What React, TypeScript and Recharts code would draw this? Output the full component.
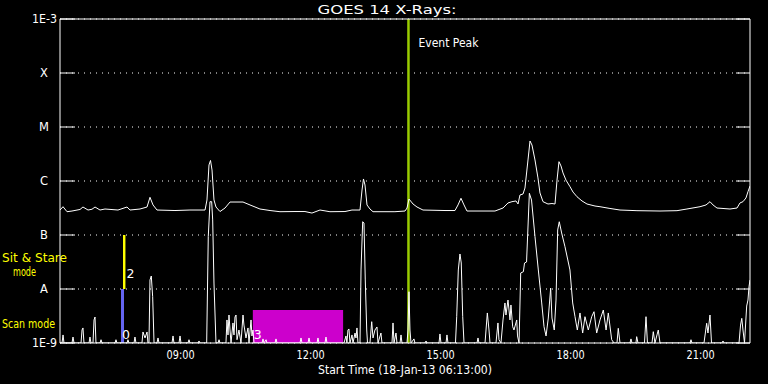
import {
  LineChart,
  Line,
  XAxis,
  YAxis,
  CartesianGrid,
  ReferenceArea,
  ReferenceLine,
} from 'recharts'

// x values are minutes after the start time 06:13 UT (18-Jan-13)
const START_MIN = 6 * 60 + 13
const END_MIN = 955.4

const Y_TICKS = [1e-9, 1e-8, 1e-7, 1e-6, 1e-5, 1e-4, 1e-3]
const Y_LABELS = ['1E-9', 'A', 'B', 'C', 'M', 'X', '1E-3']
const HOUR_TICKS = [47, 107, 167, 227, 287, 347, 407, 467, 527, 587, 647, 707, 767, 827, 887, 947]
const LABEL_TICKS = [167, 347, 527, 707, 887]

// long channel (1-8 A), W/m^2
const LONG_T = [
  0, 4.2, 9.7, 16.6, 27.7, 31.8, 38.8, 44.3, 48.5, 55.4, 62.3, 80.3, 92.8, 96.9, 110.8, 120.5,
  124.6, 128.8, 134.3, 159.2, 180, 200.8, 203.5, 206.3, 208.4, 210.5, 213.2, 216, 221.5, 228.5,
  235.4, 253.4, 263.1, 276.9, 290.8, 304.6, 325.4, 339.2, 348.9, 360, 373.8, 394.6, 404.3, 415.4,
  418.2, 420.2, 422.3, 425.1, 429.2, 433.4, 463.8, 477.7, 480.5, 483.2, 488.8, 494.3, 502.6, 533.1,
  546.9, 551.1, 555.2, 559.4, 563.5, 602.3, 613.4, 620.3, 625.8, 631.4, 634.2, 636.9, 641.1, 643.8,
  648, 650.8, 653.5, 657.7, 661.8, 664.6, 668.8, 675.7, 681.2, 685.4, 688.2, 690.9, 693.7, 696.5,
  700.6, 706.2, 710.3, 715.8, 722.8, 729.7, 740.8, 747.7, 761.5, 775.4, 798.9, 830.8, 854.3, 868.1,
  886.2, 894.5, 900, 904.2, 909.7, 927.7, 937.4, 941.5, 945.7, 949.8, 952.6, 955.4,
]
const LONG_V = [
  2.9e-7, 3.34e-7, 2.7e-7, 2.78e-7, 2.97e-7, 3.3e-7, 2.9e-7, 3.0e-7, 3.3e-7, 2.9e-7, 3.03e-7, 2.9e-7,
  3.3e-7, 2.9e-7, 3.03e-7, 3.3e-7, 4.99e-7, 3.6e-7, 2.9e-7, 2.84e-7, 2.9e-7, 2.9e-7, 4.45e-7, 1.98e-6,
  2.4e-6, 1.6e-6, 4.45e-7, 3.3e-7, 2.72e-7, 3.16e-7, 4.08e-7, 4.08e-7, 3.6e-7, 3.03e-7, 2.84e-7,
  2.7e-7, 2.72e-7, 2.72e-7, 2.55e-7, 2.9e-7, 2.7e-7, 2.72e-7, 2.9e-7, 2.9e-7, 6.81e-7, 1.09e-6,
  8.43e-7, 3.6e-7, 3.03e-7, 2.7e-7, 2.7e-7, 2.78e-7, 3.16e-7, 4.64e-7, 3.75e-7, 3.3e-7, 2.9e-7,
  2.84e-7, 2.84e-7, 3.6e-7, 4.79e-7, 3.6e-7, 2.78e-7, 2.78e-7, 3.16e-7, 3.92e-7, 4.14e-7, 4.27e-7,
  3.75e-7, 5.51e-7, 5.74e-7, 7.41e-7, 2.45e-6, 5.51e-6, 4.64e-6, 2.45e-6, 1.14e-6, 6.0e-7, 4.14e-7,
  3.75e-7, 3.83e-7, 3.75e-7, 1.04e-6, 2.28e-6, 1.9e-6, 1.41e-6, 1.04e-6, 7.83e-7, 6.25e-7, 5.12e-7,
  4.27e-7, 3.75e-7, 3.44e-7, 3.34e-7, 3.1e-7, 2.9e-7, 2.82e-7, 2.78e-7, 2.82e-7, 3.03e-7, 3.34e-7,
  3.6e-7, 4.14e-7, 3.6e-7, 3.16e-7, 3.03e-7, 3.16e-7, 3.92e-7, 4.14e-7, 4.85e-7, 6.34e-7, 8.07e-7,
]

// short channel (0.5-4 A), W/m^2, floor at 1E-9
const SHORT_T = [
  0, 2.8, 4.2, 5.5, 16.6, 18, 19.4, 29.1, 30.5, 31.8, 33.2, 40.2, 41.5, 42.9, 45.7, 47.1, 48.5, 49.8,
  55.4, 56.8, 58.2, 76.2, 77.5, 78.9, 92.8, 94.1, 95.5, 102.5, 103.8, 105.2, 113.5, 114.9, 117.7,
  120.5, 121.8, 123.2, 124.6, 126.4, 128.3, 130.2, 134.3, 135.7, 137.1, 155.1, 156.5, 157.8, 164.8,
  166.2, 167.5, 177.2, 178.6, 180, 191.1, 192.5, 193.8, 203.1, 205.3, 207.7, 210, 211.4, 213.2, 216,
  218.8, 220.2, 221.5, 229.8, 231.2, 232.6, 234, 235.4, 236.8, 239.5, 240.9, 242.3, 243.7, 245.1,
  247.8, 250.6, 253.4, 254.7, 257.5, 260.3, 261.7, 264.5, 265.8, 267.2, 268.6, 279.7, 281.1, 282.5,
  285.3, 286.6, 297.7, 299.1, 300.5, 332.3, 333.7, 335.1, 343.4, 344.8, 346.2, 355.9, 357.2, 358.6,
  366.9, 368.3, 369.7, 393.2, 396, 397.3, 398.7, 400.1, 401.5, 404.3, 405.7, 408.5, 409.8, 411.2,
  412.6, 415.4, 416.8, 419.1, 420.9, 422.7, 424.7, 425.8, 429.2, 431.6, 433.4, 436.1, 438.9, 440.3,
  444.4, 445.8, 459.7, 461.1, 462.5, 465.2, 466.6, 470.8, 472.2, 473.5, 480.5, 481.8, 483.2, 484.6,
  486, 490.1, 491.5, 505.4, 506.8, 508.2, 524.8, 526.1, 527.5, 534.5, 535.8, 537.2, 547.6, 549.3,
  551.5, 553.8, 555.6, 557.6, 559.4, 577.4, 578.8, 580.1, 588.5, 591.7, 594, 595.4, 603.7, 606.4,
  607.8, 610.6, 613.4, 616.1, 617.5, 620.3, 623.1, 624.4, 626.8, 628.6, 632.4, 633.5, 635.6, 637.9,
  641.6, 643.2, 646, 649.9, 652.9, 657.7, 662.3, 667, 670.2, 673, 676.1, 679.4, 681.2, 684.4, 686.8,
  689.1, 691.3, 694.6, 699.2, 706.1, 709.9, 713.1, 716.3, 720, 723.7, 726.9, 731.5, 736.2, 739.4,
  743.1, 747.7, 752.3, 756.1, 759.2, 763.9, 767.1, 771.2, 773, 775.4, 789.2, 790.6, 792, 797.5,
  798.5, 800.3, 809.3, 811.4, 813.4, 819.7, 821.5, 823.8, 826.6, 828.4, 830.8, 872.3, 873.7, 875.1,
  891.7, 895.4, 897.2, 900, 902.1, 916.6, 918, 919.4, 940.2, 942.3, 944, 945.7, 947.8, 950.8, 952.6,
  954, 955.4,
]
const SHORT_V = [
  1e-9, 1e-9, 1.41e-9, 1e-9, 1e-9, 1.29e-9, 1e-9, 1e-9, 1.74e-9, 1.9e-9, 1e-9, 1e-9, 1.29e-9, 1e-9,
  1e-9, 2.67e-9, 3.03e-9, 1e-9, 1e-9, 1.15e-9, 1e-9, 1e-9, 1.15e-9, 1e-9, 1e-9, 1.15e-9, 1e-9, 1e-9,
  1.29e-9, 1e-9, 1e-9, 1.6e-9, 1.24e-9, 1.6e-9, 1e-9, 1e-9, 1.47e-8, 1.74e-8, 7.2e-9, 1e-9, 1e-9,
  1.24e-9, 1e-9, 1e-9, 1.35e-9, 1e-9, 1e-9, 1.35e-9, 1e-9, 1e-9, 1.15e-9, 1e-9, 1e-9, 1.09e-9, 1e-9,
  1e-9, 9.3e-8, 4.14e-7, 4.14e-7, 1.9e-7, 1.29e-8, 1e-9, 1e-9, 1.15e-9, 1e-9, 1e-9, 2.67e-9, 1.41e-9,
  3.3e-9, 1.74e-9, 1e-9, 2.35e-9, 1.41e-9, 3.03e-9, 3.3e-9, 1.15e-9, 1.74e-9, 1e-9, 3.3e-9, 2.15e-9,
  1.24e-9, 1.9e-9, 1e-9, 2.67e-9, 1.35e-9, 1.74e-9, 1e-9, 1e-9, 1.19e-9, 1e-9, 1.15e-9, 1e-9, 1e-9,
  1.19e-9, 1e-9, 1e-9, 1.24e-9, 1e-9, 1e-9, 1.24e-9, 1e-9, 1e-9, 1.24e-9, 1e-9, 1e-9, 1.29e-9, 1e-9,
  1e-9, 1.35e-9, 1e-9, 1.74e-9, 1.82e-9, 1e-9, 1.41e-9, 1e-9, 1.53e-9, 1.24e-9, 1.9e-9, 1e-9, 1e-9,
  2.25e-8, 1.76e-7, 1.67e-7, 1.47e-8, 1.74e-9, 1e-9, 1e-9, 2.48e-9, 1.24e-9, 1.74e-9, 1.98e-9, 1e-9,
  1.53e-9, 1e-9, 1e-9, 2.35e-9, 1e-9, 1.53e-9, 1e-9, 1e-9, 1.41e-9, 1e-9, 1e-9, 1.74e-9, 8.9e-9,
  1.74e-9, 1e-9, 1.19e-9, 1e-9, 1e-9, 1.09e-9, 1e-9, 1e-9, 1.47e-9, 1e-9, 1e-9, 1.41e-9, 1e-9, 1e-9,
  3.07e-9, 2.25e-8, 4.45e-8, 3.03e-8, 3.07e-9, 1e-9, 1e-9, 1.24e-9, 1e-9, 1e-9, 3.6e-9, 1.74e-9,
  1e-9, 1e-9, 2.35e-9, 1.15e-9, 1e-9, 2.67e-9, 5.51e-9, 3.3e-9, 6.25e-9, 2.67e-9, 5.06e-9, 2.0e-9,
  1.74e-9, 2.67e-9, 1.35e-9, 1e-9, 1.98e-8, 2.09e-8, 3.03e-8, 3.16e-8, 5.92e-7, 4.45e-7, 9.3e-8,
  2.25e-8, 5.51e-9, 2.0e-9, 1.35e-9, 2.9e-9, 1.04e-8, 2.9e-9, 1.74e-9, 6.25e-9, 1.24e-7, 1.76e-7,
  1.09e-7, 6.07e-8, 2.25e-8, 5.51e-9, 3.07e-9, 1.74e-9, 3.6e-9, 1.53e-9, 3.07e-9, 1.74e-9, 3.07e-9,
  3.8e-9, 1.53e-9, 2.67e-9, 4.08e-9, 1.74e-9, 3.6e-9, 1.15e-9, 1e-9, 1e-9, 1.87e-9, 1e-9, 1e-9,
  1.19e-9, 1e-9, 1e-9, 1.31e-9, 1e-9, 1e-9, 3.07e-9, 1e-9, 1e-9, 1.62e-9, 1e-9, 1.41e-9, 1.74e-9,
  1e-9, 1e-9, 1.15e-9, 1e-9, 1e-9, 2.32e-9, 1.53e-9, 3.3e-9, 1e-9, 1e-9, 1.09e-9, 1e-9, 1e-9, 2.15e-9,
  2.86e-9, 1.74e-9, 1e-9, 4.84e-9, 6.25e-9, 1.1e-8, 1.47e-8,
]

// observing mode blocks: 0 = scan, 2 = sit & stare, 3 = other
const MODE_TAGS = ['0', '2', '3']
const MODE_START = [84.5, 87.2, 267]
const MODE_END = [88.6, 90.6, 392]
const MODE_LOW = [1e-9, 1e-8, 1e-9]
const MODE_HIGH = [1e-8, 1e-7, 4.08e-9]
const MODE_COLORS = ['#6464f0', '#ffff00', '#cc00cc']

const EVENT_PEAK = 482.5

const FONT = '"DejaVu Sans", sans-serif'

const longData = LONG_T.map((t, i) => ({ t, v: LONG_V[i] }))
const shortData = SHORT_T.map((t, i) => ({ t, v: SHORT_V[i] }))

const fmtTime = (m: number) => {
  const total = Math.round(START_MIN + m)
  const hh = Math.floor(total / 60) % 24
  const mm = total % 60
  return `${String(hh).padStart(2, '0')}:${String(mm).padStart(2, '0')}`
}

const LeftTick = (props: any) => {
  const { x, y, index } = props
  const lab = Y_LABELS[index]
  const isExp = lab.length > 1
  return (
    <g>
      <line x1={x} x2={x + 15} y1={y} y2={y} stroke="#fff" />
      <text
        x={isExp ? x - 3 : x - 16}
        y={y}
        textAnchor={isExp ? 'end' : 'middle'}
        dominantBaseline="central"
        fill="#ffffff"
        fontSize={11.5}
        fontFamily={FONT}
        textLength={isExp ? 25 : undefined}
        lengthAdjust="spacingAndGlyphs"
      >
        {lab}
      </text>
    </g>
  )
}

const RightTick = (props: any) => {
  const { x, y } = props
  return <line x1={x - 14} x2={x} y1={y} y2={y} stroke="#fff" />
}

const TopTick = (props: any) => {
  const { x, y, payload } = props
  const len = LABEL_TICKS.includes(payload.value) ? 6 : 3
  return <line x1={x} x2={x} y1={y} y2={y + len} stroke="#fff" />
}

const BottomTick = (props: any) => {
  const { x, y, payload } = props
  return (
    <text
      x={x}
      y={y + 12}
      textAnchor="middle"
      dominantBaseline="central"
      fill="#ffffff"
      fontSize={11.5}
      fontFamily={FONT}
      textLength={28}
      lengthAdjust="spacingAndGlyphs"
    >
      {fmtTime(payload.value)}
    </text>
  )
}

const modeLabel = (tag: string, i: number) => (props: any) => {
  const { x, y, width, height } = props.viewBox
  const tx = i === 1 ? x + width + 1 : x + 1
  const ty = i === 1 ? y + height - 16 : y + height - 9
  return (
    <text x={tx} y={ty} dominantBaseline="central" fill="#ffffff" fontSize={12.5} fontFamily={FONT}>
      {tag}
    </text>
  )
}

const peakLabel = (props: any) => {
  const { x, y } = props.viewBox
  return (
    <text
      x={x + 10}
      y={y + 24}
      dominantBaseline="central"
      fill="#ffffff"
      fontSize={11.5}
      fontFamily={FONT}
      textLength={60}
      lengthAdjust="spacingAndGlyphs"
    >
      Event Peak
    </text>
  )
}

const white = { fontFamily: FONT, fontSize: 11.5, fill: '#ffffff' }
const yellow = { fontFamily: FONT, fontSize: 11.5, fill: '#ffff00' }

export default function App() {
  return (
    <div style={{ position: 'fixed', left: 0, top: 0, width: 768, height: 384, background: '#000' }}>
      <LineChart width={768} height={384} margin={{ top: 0, right: 0, bottom: 0, left: 0 }}>
        <CartesianGrid xAxisId="b" yAxisId="l" vertical={false} stroke="#fff" strokeDasharray="1 5" />
        <XAxis
          xAxisId="b"
          dataKey="t"
          type="number"
          domain={[0, END_MIN]}
          allowDataOverflow
          ticks={LABEL_TICKS}
          interval={0}
          height={41}
          tickSize={0}
          tickMargin={0}
          tickLine={false}
          axisLine={{ stroke: '#fff' }}
          tick={BottomTick}
        />
        <XAxis
          xAxisId="t"
          orientation="top"
          type="number"
          domain={[0, END_MIN]}
          allowDataOverflow
          ticks={HOUR_TICKS}
          interval={0}
          height={19}
          tickSize={0}
          tickMargin={0}
          tickLine={false}
          axisLine={{ stroke: '#fff' }}
          tick={TopTick}
        />
        <YAxis
          yAxisId="l"
          type="number"
          scale="log"
          domain={[1e-9, 1e-3]}
          allowDataOverflow
          ticks={Y_TICKS}
          interval={0}
          width={60}
          tickSize={0}
          tickMargin={0}
          tickLine={false}
          axisLine={{ stroke: '#fff' }}
          tick={LeftTick}
        />
        <YAxis
          yAxisId="r"
          orientation="right"
          type="number"
          scale="log"
          domain={[1e-9, 1e-3]}
          allowDataOverflow
          ticks={Y_TICKS}
          interval={0}
          width={18}
          tickSize={0}
          tickMargin={0}
          tickLine={false}
          axisLine={{ stroke: '#fff' }}
          tick={RightTick}
        />
        {MODE_TAGS.map((tag, i) => (
          <ReferenceArea
            key={tag}
            xAxisId="b"
            yAxisId="l"
            x1={MODE_START[i]}
            x2={MODE_END[i]}
            y1={MODE_LOW[i]}
            y2={MODE_HIGH[i]}
            fill={MODE_COLORS[i]}
            fillOpacity={1}
            stroke="none"
            label={modeLabel(tag, i)}
          />
        ))}
        <ReferenceLine
          xAxisId="b"
          yAxisId="l"
          x={EVENT_PEAK}
          stroke="#99cc00"
          strokeWidth={2.5}
          label={peakLabel}
        />
        <Line
          xAxisId="b"
          yAxisId="l"
          data={longData}
          dataKey="v"
          type="linear"
          stroke="#fff"
          strokeWidth={1}
          dot={false}
          activeDot={false}
          isAnimationActive={false}
        />
        <Line
          xAxisId="b"
          yAxisId="l"
          data={shortData}
          dataKey="v"
          type="linear"
          stroke="#fff"
          strokeWidth={1}
          dot={false}
          activeDot={false}
          isAnimationActive={false}
        />
        <text x={387} y={9} textAnchor="middle" dominantBaseline="central" {...white} fontSize={12.5} textLength={139} lengthAdjust="spacingAndGlyphs">
          GOES 14 X-Rays:
        </text>
        <text x={405} y={369.5} textAnchor="middle" dominantBaseline="central" {...white} textLength={174} lengthAdjust="spacingAndGlyphs">
          Start Time (18-Jan-13 06:13:00)
        </text>
        <text x={2} y={257.5} dominantBaseline="central" {...yellow} textLength={65} lengthAdjust="spacingAndGlyphs">
          Sit &amp; Stare
        </text>
        <text x={24.5} y={271.5} textAnchor="middle" dominantBaseline="central" {...yellow} textLength={23} lengthAdjust="spacingAndGlyphs">
          mode
        </text>
        <text x={2} y={323.5} dominantBaseline="central" {...yellow} textLength={53} lengthAdjust="spacingAndGlyphs">
          Scan mode
        </text>
      </LineChart>
    </div>
  )
}
